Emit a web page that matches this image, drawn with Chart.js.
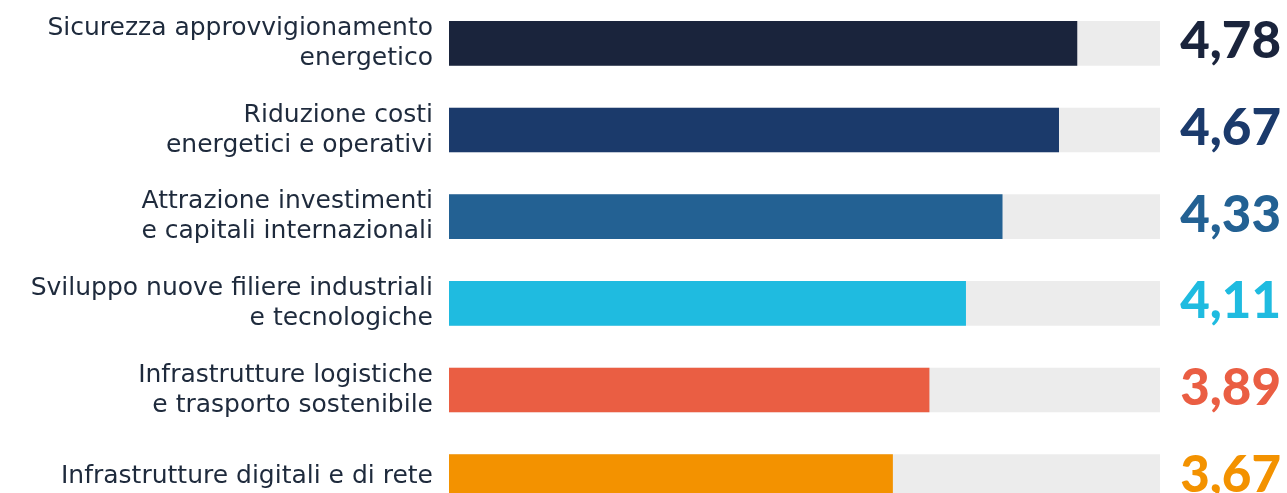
<!DOCTYPE html>
<html>
<head>
<meta charset="utf-8">
<script src="https://cdn.jsdelivr.net/npm/chart.js@4"></script>
<style>
  html, body { margin: 0; padding: 0; background: #fff; overflow: hidden; }
  #wrap { width: 1287px; height: 493px; overflow: hidden; }
</style>
</head>
<body>
<div id="wrap">
  <canvas id="chart" width="1287" height="520"></canvas>
</div>
<script>
const categories = [
  ['Sicurezza approvvigionamento', 'energetico'],
  ['Riduzione costi', 'energetici e operativi'],
  ['Attrazione investimenti', 'e capitali internazionali'],
  ['Sviluppo nuove filiere industriali', 'e tecnologiche'],
  ['Infrastrutture logistiche', 'e trasporto sostenibile'],
  ['Infrastrutture digitali e di rete']
];
const scores = [4.78, 4.67, 4.33, 4.11, 3.89, 3.67];
const track = [5.28, 5.28, 5.28, 5.28, 5.28, 5.28];
const barColors = ['#1a243c', '#1b3a6b', '#236193', '#1fbbe0', '#ea5e43', '#f39200'];

const NUM_FONT = '900 51px Lato';

// draws the big score numbers to the right of each track
const valueLabels = {
  id: 'valueLabels',
  afterDatasetsDraw(chart) {
    const ctx = chart.ctx;
    const meta = chart.getDatasetMeta(0);
    ctx.save();
    ctx.font = NUM_FONT;
    ctx.textAlign = 'right';
    ctx.textBaseline = 'alphabetic';
    meta.data.forEach((bar, i) => {
      ctx.fillStyle = barColors[i];
      ctx.fillText(scores[i].toFixed(2).replace('.', ','), 1281, bar.y + 15);
    });
    ctx.restore();
  }
};

function draw() {
  new Chart(document.getElementById('chart'), {
    type: 'bar',
    data: {
      labels: categories,
      datasets: [
        { data: scores, backgroundColor: barColors, barThickness: 44, grouped: false },
        { data: track, backgroundColor: '#ececec', barThickness: 44, grouped: false }
      ]
    },
    options: {
      indexAxis: 'y',
      responsive: false,
      animation: false,
      layout: { padding: { right: 127, top: 0, bottom: 0 } },
      plugins: { legend: { display: false }, tooltip: { enabled: false } },
      scales: {
        x: { display: false, min: 1, max: 5.28 },
        y: {
          grid: { display: false, drawTicks: false },
          border: { display: false },
          afterFit(scale) {
            scale.width = 449;
            scale.paddingTop = 0;
            scale.paddingBottom = 0;
          },
          ticks: {
            padding: 16,
            color: '#1e2a3c',
            font: { family: '"DejaVu Sans", sans-serif', size: 25, lineHeight: 1.2 }
          }
        }
      }
    },
    plugins: [valueLabels]
  });
}

Promise.all([
  document.fonts.load(NUM_FONT),
  document.fonts.load('25px "DejaVu Sans"')
]).then(draw, draw);
</script>
</body>
</html>
